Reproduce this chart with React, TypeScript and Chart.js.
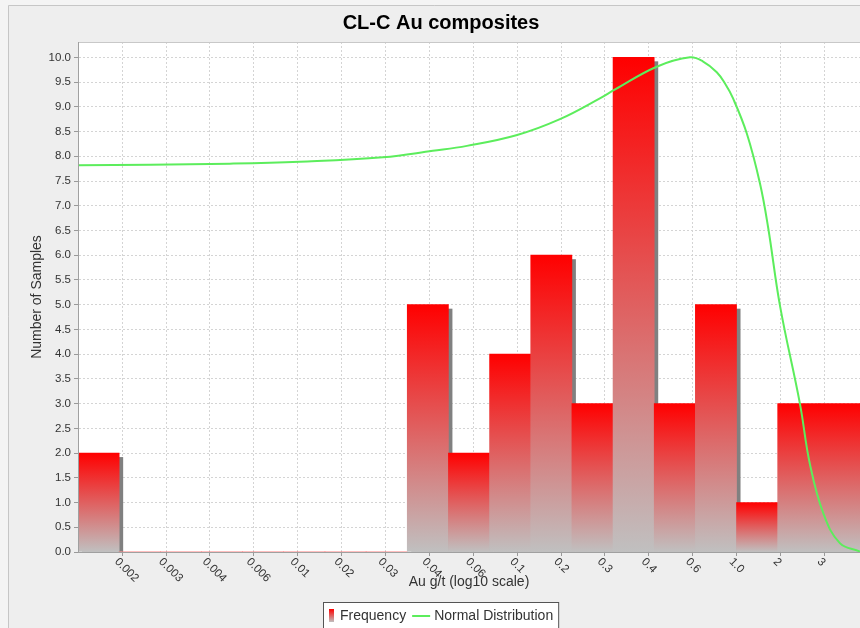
import { useEffect, useRef } from 'react';
import { Chart, registerables } from 'chart.js';

Chart.register(...registerables);

const FONT = "'Liberation Sans', Arial, Helvetica, sans-serif";

const TITLE = 'CL-C Au composites';
const X_TITLE = 'Au g/t (log10 scale)';
const Y_TITLE = 'Number of Samples';
const LEGEND_LABELS = ['Frequency', 'Normal Distribution'];

// histogram bins (bin index centres) and counts
const BIN_X = [0.5, 1.5, 2.5, 3.5, 4.5, 5.5, 6.5, 7.5, 8.5, 9.5, 10.5, 11.5, 12.5, 13.5, 14.5, 15.5, 16.5, 17.5, 18.5];
const FREQUENCY = [2, 0, 0, 0, 0, 0, 0, 0, 5, 2, 4, 6, 3, 10, 3, 5, 1, 3, 3];

// normal distribution curve (x in bin units)
const CURVE_X = [0, 1.75, 3.69, 5.39, 7.41, 8.62, 9.45, 10.67, 11.71, 12.68, 13.05, 14.06, 14.87, 15.18, 15.52, 15.72, 15.91, 16.25, 16.57, 16.77, 17.06, 17.54, 17.78, 18.11, 18.51, 19];
const CURVE_Y = [7.82, 7.83, 7.85, 7.89, 7.98, 8.11, 8.21, 8.43, 8.75, 9.17, 9.35, 9.81, 10.0, 9.92, 9.7, 9.47, 9.18, 8.46, 7.45, 6.55, 4.96, 3.0, 1.79, 0.78, 0.18, 0.01];

// x-axis tick positions (bin units) and their labels
const X_TICK_VALUES = [1.07, 2.14, 3.2, 4.27, 5.33, 6.4, 7.47, 8.54, 9.6, 10.67, 11.74, 12.8, 13.87, 14.94, 16.0, 17.07, 18.14];
const X_TICK_LABELS = ['0.002', '0.003', '0.004', '0.006', '0.01', '0.02', '0.03', '0.04', '0.06', '0.1', '0.2', '0.3', '0.4', '0.6', '1.0', '2', '3'];

const Y_TICK_VALUES = [0, 0.5, 1, 1.5, 2, 2.5, 3, 3.5, 4, 4.5, 5, 5.5, 6, 6.5, 7, 7.5, 8, 8.5, 9, 9.5, 10];

const X_MIN = 0;
const X_MAX = 19;
const Y_MIN = 0;
const Y_MAX = 10.31;

const BAR_TOP = '#ff0000';
const BAR_BOTTOM = '#c0c0c0';
const CURVE_COLOR = '#5ced5c';

const backgroundPlugin = {
  id: 'bgPanel',
  beforeDraw(chart: any) {
    const { ctx, width, height, chartArea: a } = chart;
    ctx.save();
    ctx.fillStyle = '#f4f4f4';
    ctx.fillRect(0, 0, width, height);
    ctx.fillStyle = '#eeeeee';
    ctx.fillRect(8, 5, width - 8, height - 5);
    ctx.strokeStyle = '#c6c6c6';
    ctx.lineWidth = 1;
    ctx.beginPath();
    ctx.moveTo(8.5, height);
    ctx.lineTo(8.5, 5.5);
    ctx.lineTo(width, 5.5);
    ctx.stroke();
    ctx.fillStyle = '#ffffff';
    ctx.fillRect(a.left, a.top, a.right - a.left, a.bottom - a.top);
    ctx.restore();
  },
};

const shadowPlugin = {
  id: 'barShadow',
  beforeDatasetsDraw(chart: any) {
    const meta = chart.getDatasetMeta(0);
    const a = chart.chartArea;
    const ctx = chart.ctx;
    ctx.save();
    ctx.beginPath();
    ctx.rect(a.left, a.top, a.right - a.left, a.bottom - a.top);
    ctx.clip();
    ctx.fillStyle = '#808080';
    meta.data.forEach((el: any) => {
      const { x, y, base, width } = el.getProps(['x', 'y', 'base', 'width'], true);
      if (base - y < 1) return;
      ctx.fillRect(x - width / 2 + 4, y + 4, width, base - y - 4);
    });
    ctx.restore();
  },
};

const decorPlugin = {
  id: 'decor',
  afterDatasetsDraw(chart: any) {
    const a = chart.chartArea;
    const ctx = chart.ctx;
    ctx.save();
    ctx.lineWidth = 1;
    ctx.strokeStyle = '#c8c8c8';
    ctx.beginPath();
    ctx.moveTo(a.left, a.top + 0.5);
    ctx.lineTo(a.right, a.top + 0.5);
    ctx.stroke();
    ctx.strokeStyle = '#a0a0a0';
    ctx.beginPath();
    ctx.moveTo(a.left + 0.5, a.top);
    ctx.lineTo(a.left + 0.5, a.bottom + 0.5);
    ctx.lineTo(a.right, a.bottom + 0.5);
    ctx.stroke();
    ctx.restore();
  },
  afterDraw(chart: any) {
    const ctx = chart.ctx;
    const xs = chart.scales.x;
    ctx.save();
    // rotated x tick labels (reading downwards to the right)
    ctx.fillStyle = '#333333';
    ctx.font = `11.5px ${FONT}`;
    ctx.textAlign = 'left';
    ctx.textBaseline = 'middle';
    X_TICK_VALUES.forEach((v, i) => {
      const px = xs.getPixelForValue(v);
      ctx.save();
      ctx.translate(px - 5.5, chart.chartArea.bottom + 8);
      ctx.rotate(Math.PI / 4);
      ctx.fillText(X_TICK_LABELS[i], 0, 0);
      ctx.restore();
    });

    // legend
    ctx.font = `14px ${FONT}`;
    const w1 = ctx.measureText(LEGEND_LABELS[0]).width;
    const w2 = ctx.measureText(LEGEND_LABELS[1]).width;
    const total = 6 + 5 + 6 + w1 + 6 + 18 + 4 + w2 + 5;
    const cx = (22 + chart.width) / 2;
    const lx = Math.round(cx - total / 2);
    const ly = 602;
    const cy = 616;
    ctx.fillStyle = '#ffffff';
    ctx.fillRect(lx, ly, total, 40);
    ctx.strokeStyle = '#555555';
    ctx.lineWidth = 1;
    ctx.strokeRect(lx + 0.5, ly + 0.5, total, 40);
    const g = ctx.createLinearGradient(0, cy - 7, 0, cy + 6);
    g.addColorStop(0, BAR_TOP);
    g.addColorStop(1, BAR_BOTTOM);
    ctx.fillStyle = g;
    ctx.fillRect(lx + 6, cy - 7, 5, 13);
    ctx.fillStyle = '#333333';
    ctx.textBaseline = 'middle';
    let tx = lx + 6 + 5 + 6;
    ctx.fillText(LEGEND_LABELS[0], tx, cy);
    tx += w1 + 6;
    ctx.strokeStyle = CURVE_COLOR;
    ctx.lineWidth = 2;
    ctx.beginPath();
    ctx.moveTo(tx, cy);
    ctx.lineTo(tx + 18, cy);
    ctx.stroke();
    tx += 18 + 4;
    ctx.fillStyle = '#333333';
    ctx.fillText(LEGEND_LABELS[1], tx, cy);
    ctx.restore();
  },
};

export default function App() {
  const canvasRef = useRef<HTMLCanvasElement | null>(null);

  useEffect(() => {
    const canvas = canvasRef.current;
    if (!canvas) return;
    Chart.defaults.font.family = FONT;

    const barColor = (c: any) => {
      const chart = c.chart;
      const ys = chart.scales && chart.scales.y;
      if (c.type !== 'data' || !ys || !c.parsed) return BAR_TOP;
      const top = ys.getPixelForValue(c.parsed.y);
      const base = ys.getPixelForValue(0);
      if (!isFinite(top) || !isFinite(base) || base - top < 1) return BAR_TOP;
      const g = chart.ctx.createLinearGradient(0, top, 0, base);
      g.addColorStop(0, BAR_TOP);
      g.addColorStop(1, BAR_BOTTOM);
      return g;
    };

    const chart = new Chart(canvas, {
      type: 'bar',
      data: {
        datasets: [
          {
            type: 'bar',
            label: LEGEND_LABELS[0],
            data: BIN_X.map((x, i) => ({ x, y: FREQUENCY[i] })),
            backgroundColor: barColor,
            borderWidth: 0,
            barPercentage: 1,
            categoryPercentage: 1,
            order: 1,
          } as any,
          {
            type: 'line',
            label: LEGEND_LABELS[1],
            data: CURVE_X.map((x, i) => ({ x, y: CURVE_Y[i] })),
            borderColor: CURVE_COLOR,
            borderWidth: 2,
            pointRadius: 0,
            fill: false,
            tension: 0.4,
            order: 0,
          } as any,
        ],
      },
      options: {
        animation: false,
        responsive: false,
        devicePixelRatio: 1,
        layout: { padding: { left: 22, right: 0, top: 5, bottom: 33.6 } },
        plugins: {
          legend: { display: false },
          tooltip: { enabled: false },
          title: {
            display: true,
            text: TITLE,
            color: '#000000',
            font: { size: 20, weight: 'bold', family: FONT },
            padding: { top: 6, bottom: 7 },
          },
        },
        scales: {
          x: {
            type: 'linear',
            min: X_MIN,
            max: X_MAX,
            offset: false,
            position: 'bottom',
            afterBuildTicks: (s: any) => {
              s.ticks = X_TICK_VALUES.map((v) => ({ value: v }));
            },
            afterFit: (s: any) => {
              s.height = 42.4;
            },
            ticks: { display: false, autoSkip: false },
            grid: {
              color: '#d4d4d4',
              offset: false,
              drawTicks: true,
              tickLength: 4,
              tickColor: '#999999',
              tickBorderDash: [],
            },
            border: { display: true, color: '#a0a0a0', dash: [2, 2] },
            title: {
              display: true,
              text: X_TITLE,
              color: '#333333',
              font: { size: 14, family: FONT },
              padding: { top: 0, bottom: 4 },
            },
          },
          y: {
            type: 'linear',
            min: Y_MIN,
            max: Y_MAX,
            position: 'left',
            afterBuildTicks: (s: any) => {
              s.ticks = Y_TICK_VALUES.map((v) => ({ value: v }));
            },
            afterFit: (s: any) => {
              s.width = 56;
            },
            ticks: {
              autoSkip: false,
              color: '#333333',
              font: { size: 11.5, family: FONT },
              padding: 3,
              callback: (v: any) => Number(v).toFixed(1),
            },
            grid: {
              color: '#d4d4d4',
              drawTicks: true,
              tickLength: 4,
              tickColor: '#999999',
              tickBorderDash: [],
            },
            border: { display: true, color: '#a0a0a0', dash: [2, 2] },
            title: {
              display: true,
              text: Y_TITLE,
              color: '#333333',
              font: { size: 14, family: FONT },
              padding: { top: 7, bottom: 0 },
            },
          },
        },
      } as any,
      plugins: [backgroundPlugin, shadowPlugin, decorPlugin],
    });

    return () => chart.destroy();
  }, []);

  return (
    <div style={{ position: 'fixed', left: 0, top: 0, width: 860, height: 628 }}>
      <canvas ref={canvasRef} width={860} height={628} style={{ display: 'block', width: 860, height: 628 }} />
    </div>
  );
}
